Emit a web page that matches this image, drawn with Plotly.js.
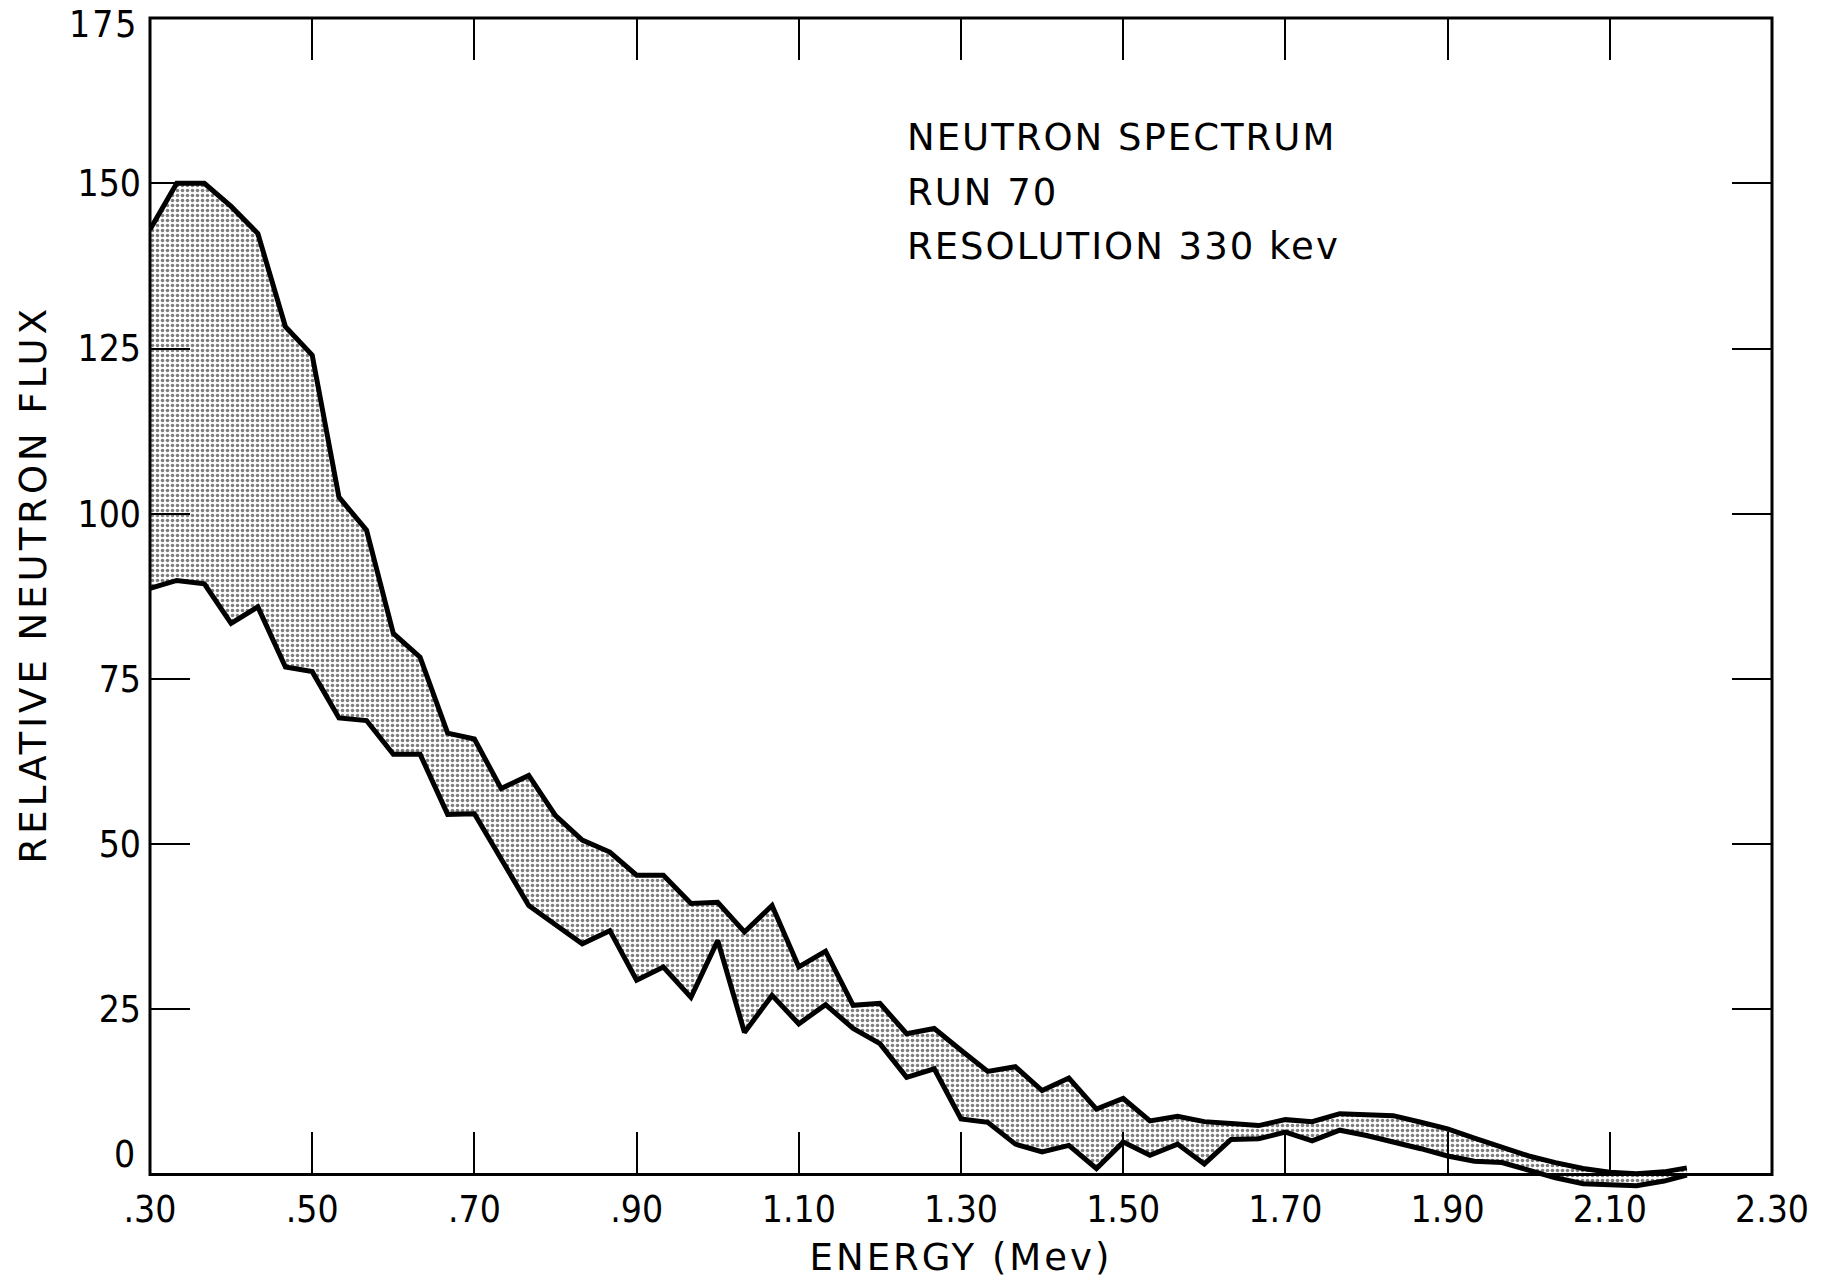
<!DOCTYPE html>
<html><head><meta charset="utf-8">
<script src="https://cdn.plot.ly/plotly-3.0.1.min.js"></script>
<style>
html,body{margin:0;padding:0;background:#fff;}
#chart{width:1824px;height:1279px;}
.main-svg text.xtitle { letter-spacing: 3px; }
.main-svg .annotation-text { letter-spacing: 2px; }
.main-svg .annotation.ytitle-note .annotation-text { letter-spacing: 4px; }
</style></head><body><div id="chart"></div>
<script>
// Energy grid (MeV)
const energy = [0.300,0.333,0.367,0.400,0.433,0.467,0.500,0.533,0.567,0.600,
  0.633,0.667,0.700,0.733,0.767,0.800,0.833,0.867,0.900,0.933,
  0.967,1.000,1.033,1.067,1.100,1.133,1.167,1.200,1.233,1.267,
  1.300,1.333,1.367,1.400,1.433,1.467,1.500,1.533,1.567,1.600,
  1.633,1.667,1.700,1.733,1.767,1.800,1.833,1.867,1.900,1.933,
  1.967,2.000,2.033,2.067,2.100,2.133,2.167,2.195];
// Upper bound of relative neutron flux
const fluxUpper = [143,150,150,146.5,142.4,128.3,124,102.5,97.5,81.9,
  78.3,66.8,65.9,58.4,60.4,54.3,50.6,48.8,45.3,45.3,
  41.0,41.2,36.7,40.7,31.4,33.8,25.6,25.9,21.3,22.1,
  18.8,15.6,16.3,12.7,14.6,9.9,11.5,8.1,8.8,8.0,
  7.7,7.4,8.3,8.0,9.2,9.1,8.9,7.9,6.9,5.5,
  4.1,2.8,1.8,0.9,0.35,0.1,0.4,1.0];
// Lower bound of relative neutron flux
const fluxLower = [88.7,89.9,89.4,83.4,85.9,76.8,76.1,69.1,68.7,63.6,
  63.6,54.5,54.6,47.6,40.7,37.8,34.9,36.9,29.4,31.4,
  26.8,35.4,21.5,27.1,22.8,25.7,22.1,19.8,14.7,16.0,
  8.4,7.9,4.6,3.4,4.4,0.9,4.9,2.9,4.6,1.6,
  5.3,5.4,6.4,5.1,6.7,5.9,5.0,3.9,2.8,2.0,
  1.8,0.7,-0.5,-1.4,-1.6,-1.7,-1.0,-0.1];

const xTickVals = [0.3,0.5,0.7,0.9,1.1,1.3,1.5,1.7,1.9,2.1,2.3];
const xTickText = ['.30','.50','.70','.90','1.10','1.30','1.50','1.70','1.90','2.10','2.30'];
const yTickVals = [0,25,50,75,100,125,150,175];
const yTickText = ['0','25','50','75','100','125','150','175'];
const noteLines = ['NEUTRON SPECTRUM','RUN 70','RESOLUTION 330 kev'];
const noteY = [156.9,148.65,140.4];
const xTitle = 'ENERGY (Mev)';
const yTitle = 'RELATIVE NEUTRON FLUX';

const xRange = [0.3, 2.3];
const yRange = [-2.5, 175.02];
const zeroFrac = (0 - yRange[0]) / (yRange[1] - yRange[0]);

const textFont = 'DejaVu Sans, Verdana, sans-serif';
const tickFont = {family: 'DejaVu Sans Condensed, Liberation Sans Narrow, DejaVu Sans, sans-serif', size: 37, color: '#000'};

const traces = [
  {x: energy, y: fluxUpper, mode: 'lines', line: {color: '#000', width: 5}, hoverinfo: 'skip', showlegend: false},
  {x: energy, y: fluxLower, mode: 'lines', line: {color: '#000', width: 5}, fill: 'tonexty',
   fillcolor: 'rgba(255,255,255,0)',
   fillpattern: {shape: '.', size: 5, solidity: 0.42, fgcolor: '#000', bgcolor: '#fff', fillmode: 'overlay'},
   hoverinfo: 'skip', showlegend: false},
  // empty trace so that the top (mirror) axis is drawn
  {x: [], y: [], xaxis: 'x2', yaxis: 'y', mode: 'lines', hoverinfo: 'skip', showlegend: false}
];

const H = 1156 * (yRange[1] - yRange[0]) / 175;
// end labels (0 and 175) are placed as annotations so they sit like the original lettering
const yTickTextShown = yTickText.map((t, i) => (i === 0 || i === yTickText.length - 1) ? '' : t);

const layout = {
  width: 1824, height: 1279,
  margin: {l: 150, r: 52, t: 18, b: 1279 - 18 - H},
  paper_bgcolor: '#fff', plot_bgcolor: '#fff',
  showlegend: false,
  xaxis: {
    range: xRange, anchor: 'free', position: zeroFrac,
    showline: false, showgrid: false, zeroline: false,
    tickmode: 'array', tickvals: xTickVals, ticktext: xTickText,
    ticks: 'inside', ticklen: 42, tickwidth: 2, tickcolor: '#000',
    tickfont: tickFont, ticklabelstandoff: 10,
    title: {text: xTitle, font: {family: textFont, size: 37, color: '#000'}, standoff: 16}
  },
  xaxis2: {
    range: xRange, overlaying: 'x', side: 'top', anchor: 'y',
    showline: false, showgrid: false, zeroline: false,
    tickmode: 'array', tickvals: xTickVals, showticklabels: false,
    ticks: 'inside', ticklen: 42, tickwidth: 2, tickcolor: '#000'
  },
  yaxis: {
    range: yRange, anchor: 'x',
    showline: false, showgrid: false, zeroline: false,
    tickmode: 'array', tickvals: yTickVals, ticktext: yTickTextShown,
    ticks: 'inside', ticklen: 40, tickwidth: 2, tickcolor: '#000',
    mirror: 'ticks',
    tickfont: tickFont, ticklabelstandoff: 8
  },
  shapes: [
    {type: 'rect', xref: 'paper', yref: 'paper', x0: 0, x1: 1, y0: zeroFrac, y1: 1,
     line: {color: '#000', width: 3}, fillcolor: 'rgba(0,0,0,0)', layer: 'above'}
  ],
  annotations: noteLines.map((t, i) => ({
    text: t, xref: 'x', yref: 'y', x: 1.231, y: noteY[i],
    xanchor: 'left', yanchor: 'middle', align: 'left', showarrow: false,
    font: {family: textFont, size: 37, color: '#000'}
  })).concat([
    {text: yTickText[0], xref: 'paper', yref: 'y', x: 0, y: 3.0, xshift: -12,
     xanchor: 'right', yanchor: 'middle', showarrow: false, font: tickFont},
    {text: yTickText[yTickText.length - 1], xref: 'paper', yref: 'y', x: 0, y: yTickVals[yTickVals.length - 1],
     xshift: -12, yshift: -6,
     xanchor: 'right', yanchor: 'middle', showarrow: false, font: tickFont},
    {text: yTitle, xref: 'paper', yref: 'y', x: 0, xshift: -117, y: 89.3,
     textangle: -90, xanchor: 'center', yanchor: 'middle', showarrow: false,
     font: {family: textFont, size: 37, color: '#000'}}
  ])
};

Plotly.newPlot('chart', traces, layout, {staticPlot: true, displayModeBar: false}).then(() => {
  // tag the rotated title annotation so its letter-spacing can be set in CSS
  const anns = document.querySelectorAll('.main-svg .annotation');
  anns[anns.length - 1].classList.add('ytitle-note');
});
</script></body></html>
